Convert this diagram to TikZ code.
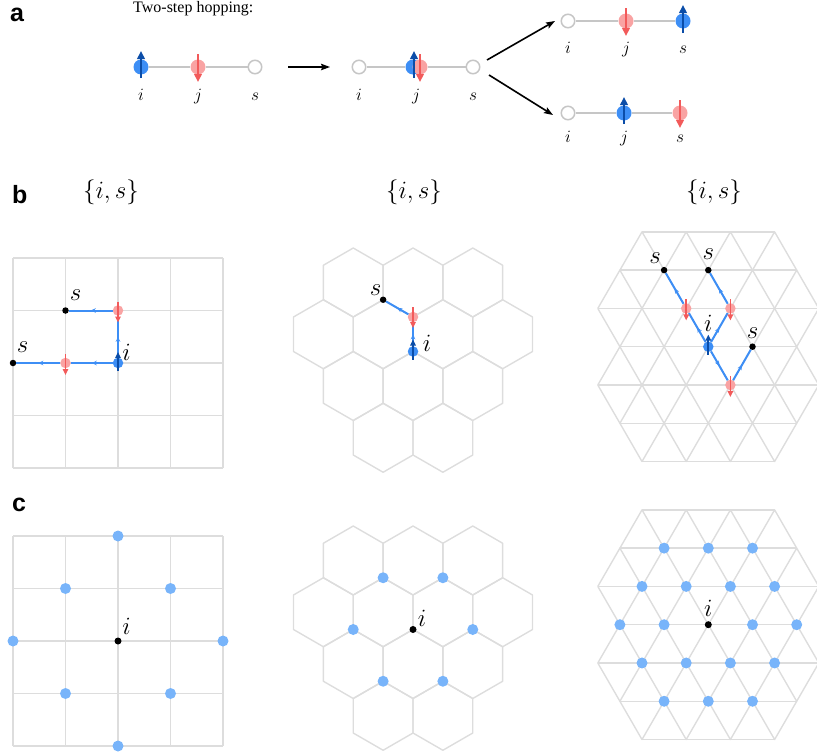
\documentclass[tikz,border=0pt]{standalone}
\usepackage{fontspec}
\setmainfont{Liberation Serif}
\newfontfamily\panelfont{Liberation Sans}
\usetikzlibrary{arrows.meta,calc,decorations.markings}
\definecolor{spinblue}{HTML}{3D8EF5}
\definecolor{darkblue}{HTML}{0B4DA8}
\definecolor{pinkfill}{HTML}{F9A3A3}
\definecolor{redarr}{HTML}{F25A5A}
\definecolor{gridgray}{HTML}{DDDDDD}
\definecolor{chaingray}{HTML}{C6C6C6}
\definecolor{pathblue}{HTML}{3D8EF5}
\definecolor{dotblue}{HTML}{78B4FA}
\newcommand{\mysqlat}{%
  \foreach \k in {-2,...,2} {\draw[latline] ({\k*52.5},-105) -- ({\k*52.5},105);
    \draw[latline] (-105,{\k*52.5}) -- (105,{\k*52.5});}}
\newcommand{\myhexlat}{%
  \foreach \cx/\cy in {-59.76/-69, 0/-69, 59.76/-69, -89.64/-17.25, -29.88/-17.25, 29.88/-17.25, 89.64/-17.25, -59.76/34.5, 0/34.5, 59.76/34.5, -29.88/86.25, 29.88/86.25}
  {\draw[latline] (\cx,\cy) +(30:34.5) -- +(90:34.5) -- +(150:34.5) -- +(210:34.5) -- +(270:34.5) -- +(330:34.5) -- cycle;}}
\newcommand{\mytrilat}{%
  \foreach \r/\w in {-3/1.5,-2/2,-1/2.5,0/2,1/2.5,2/2,3/1.5} {\draw[latline] (-\w,\r) -- (\w,\r);}
  \foreach \x in {-1.5,-0.5,0.5,1.5} {\draw[latline] ({\x-0.5},-2) -- (\x,-3) -- ({\x+0.5},-2);
    \draw[latline] ({\x-0.5},2) -- (\x,3) -- ({\x+0.5},2);}
  \foreach \x in {-2,...,2} {\draw[latline] ({\x-0.5},-1) -- (\x,-2) -- ({\x+0.5},-1);
    \draw[latline] ({\x-0.5},-1) -- (\x,0) -- ({\x+0.5},-1);
    \draw[latline] ({\x-0.5},1) -- (\x,0) -- ({\x+0.5},1);
    \draw[latline] ({\x-0.5},1) -- (\x,2) -- ({\x+0.5},1);}}
\begin{document}
\begin{tikzpicture}[x=1pt,y=-1pt,
  site/.style={circle,inner sep=0pt,minimum size=15pt},
  emptysite/.style={site,draw=chaingray,fill=white,line width=1.5pt,minimum size=13.5pt},
  bluesite/.style={site,fill=spinblue},
  pinksite/.style={site,fill=pinkfill},
  chainline/.style={chaingray,line width=2pt},
  upA/.style={darkblue,line width=2.5pt,-{Triangle[length=8pt,width=7.5pt]}},
  downA/.style={redarr,line width=2.5pt,-{Triangle[length=8pt,width=7.5pt]}},
  upS/.style={darkblue,line width=1.8pt,-{Triangle[length=6pt,width=5.5pt]}},
  downS/.style={redarr,line width=1.8pt,-{Triangle[length=6pt,width=5.5pt]}},
  bluesmall/.style={circle,inner sep=0pt,minimum size=10.5pt,fill=spinblue},
  pinksmall/.style={circle,inner sep=0pt,minimum size=10.5pt,fill=pinkfill},
  sdot/.style={circle,inner sep=0pt,minimum size=6.5pt,fill=black},
  cdot/.style={circle,inner sep=0pt,minimum size=11pt,fill=dotblue},
  latline/.style={gridgray,line width=1.4pt,line join=round},
  hop/.style={pathblue,line width=2pt,postaction={decorate},
    decoration={markings,mark=at position 0.5 with {\arrow{Stealth[length=5pt,width=4.5pt]}}}},
  bigarrow/.style={black,line width=1.6pt,-{Stealth[length=9pt,width=6.5pt,inset=1.5pt]}},
  panellab/.style={font=\panelfont\bfseries\fontsize{25}{30}\selectfont,inner sep=0pt,anchor=base west},
  alab/.style={font=\fontsize{16}{19}\selectfont,inner sep=0pt,anchor=base},
  lab/.style={font=\fontsize{24}{28}\selectfont,inner sep=0pt},
  ttl/.style={font=\fontsize{23.5}{28}\selectfont,inner sep=0pt}
]
\useasboundingbox (0,0) rectangle (817,755);

% ---------------- panel a ----------------
\node[panellab] (la) at (10,21) {a};
\node[inner sep=0pt,anchor=base west,font=\fontsize{16}{19}\selectfont] (ttlA) at (133,12.5) {Two-step hopping:};

% chain 1
\node[bluesite] (i1) at (141,67) {};
\node[pinksite] (j1) at (198,67) {};
\node[emptysite] (s1) at (255,67) {};
\draw[chainline] (i1) -- (j1);
\draw[chainline] (j1) -- (s1);
\draw[upA] ($(i1)+(0,11)$) -- ($(i1)+(0,-16)$);
\draw[downA] ($(j1)+(0,-13)$) -- ($(j1)+(0,15)$);
\node[alab] at (141,100) {$i$};
\node[alab] at (198,100) {$j$};
\node[alab] at (255,100) {$s$};

\coordinate (ar1s) at (288,67);
\coordinate (ar1e) at (330,67);
\draw[bigarrow] (ar1s) -- (ar1e);

% chain 2
\node[emptysite] (i2) at (359,67) {};
\node[bluesite] (j2b) at (413,67) {};
\node[pinksite] (j2p) at (420,67) {};
\node[emptysite] (s2) at (473,67) {};
\draw[chainline] (i2) -- (j2b);
\draw[chainline] (j2p) -- (s2);
\draw[upA] (414,78) -- (414,51);
\draw[downA] (420,54) -- (420,82);
\node[alab] at (359,100) {$i$};
\node[alab] at (416,100) {$j$};
\node[alab] at (473,100) {$s$};

\coordinate (ar2s) at (487,60);
\coordinate (ar2e) at (555,21);
\coordinate (ar3s) at (489,75);
\coordinate (ar3e) at (553,115);
\draw[bigarrow] (ar2s) -- (ar2e);
\draw[bigarrow] (ar3s) -- (ar3e);

% chain 3
\node[emptysite] (i3) at (568,21) {};
\node[pinksite] (j3) at (626,21) {};
\node[bluesite] (s3) at (683,21) {};
\draw[chainline] (i3) -- (j3);
\draw[chainline] (j3) -- (s3);
\draw[downA] ($(j3)+(0,-13)$) -- ($(j3)+(0,15)$);
\draw[upA] ($(s3)+(0,12)$) -- ($(s3)+(0,-16)$);
\node[alab] at (568,53) {$i$};
\node[alab] at (626,53) {$j$};
\node[alab] at (683,53) {$s$};

% chain 4
\node[emptysite] (i4) at (568,113) {};
\node[bluesite] (j4) at (624,113) {};
\node[pinksite] (s4) at (680,113) {};
\draw[chainline] (i4) -- (j4);
\draw[chainline] (j4) -- (s4);
\draw[upA] ($(j4)+(0,11)$) -- ($(j4)+(0,-16)$);
\draw[downA] ($(s4)+(0,-13)$) -- ($(s4)+(0,15)$);
\node[alab] at (568,142) {$i$};
\node[alab] at (624,142) {$j$};
\node[alab] at (680,142) {$s$};

% ---------------- panel b ----------------
\node[panellab] (lb) at (12,203) {b};
\node[ttl] (t1) at (111,192) {$\{i,s\}$};
\node[ttl] (t2) at (414,192) {$\{i,s\}$};
\node[ttl] (t3) at (714,192) {$\{i,s\}$};

% square
\begin{scope}[shift={(118,363)}]
  \mysqlat
  \node[bluesmall] (bsqI) at (0,0) {};
  \node[pinksmall] (bsqJa) at (0,-52.5) {};
  \node[pinksmall] (bsqJb) at (-52.5,0) {};
  \node[sdot] (bsqSa) at (-52.5,-52.5) {};
  \node[sdot] (bsqSb) at (-105,0) {};
\end{scope}
\draw[hop] (bsqI) -- (bsqJa);
\draw[hop] (bsqJa) -- (bsqSa);
\draw[hop] (bsqI) -- (bsqJb);
\draw[hop] (bsqJb) -- (bsqSb);
\draw[upS] ($(bsqI)+(0,8)$) -- ($(bsqI)+(0,-11)$);
\draw[downS] ($(bsqJa)+(0,-9)$) -- ($(bsqJa)+(0,12)$);
\draw[downS] ($(bsqJb)+(0,-9)$) -- ($(bsqJb)+(0,12)$);
\node[lab] at ($(bsqSa)+(10,-15)$) {$s$};
\node[lab] at ($(bsqSb)+(9.5,-16)$) {$s$};
\node[lab] at ($(bsqI)+(8.5,-11)$) {$i$};

% honeycomb
\begin{scope}[shift={(413,351.5)}]
  \myhexlat
  \node[bluesmall] (bhxI) at (0,0) {};
  \node[pinksmall] (bhxJ) at (0,-34.5) {};
  \node[sdot] (bhxS) at (-29.88,-51.75) {};
\end{scope}
\draw[hop] (bhxI) -- (bhxJ);
\draw[hop] (bhxJ) -- (bhxS);
\draw[upS] ($(bhxI)+(0,8)$) -- ($(bhxI)+(0,-12)$);
\draw[downS] ($(bhxJ)+(0,-10)$) -- ($(bhxJ)+(0,11)$);
\node[lab] at ($(bhxS)+(-7.5,-9.5)$) {$s$};
\node[lab] at ($(bhxI)+(14,-8)$) {$i$};

% triangular
\begin{scope}[shift={(708.3,346.7)},x=44.2pt,y=-38.28pt]
  \mytrilat
  \node[bluesmall] (btrI) at (0,0) {};
  \node[pinksmall] (btrJa) at (-0.5,-1) {};
  \node[pinksmall] (btrJb) at (0.5,-1) {};
  \node[pinksmall] (btrJc) at (0.5,1) {};
  \node[sdot] (btrSa) at (-1,-2) {};
  \node[sdot] (btrSb) at (0,-2) {};
  \node[sdot] (btrSc) at (1,0) {};
\end{scope}
\draw[hop] (btrI) -- (btrJa);
\draw[hop] (btrJa) -- (btrSa);
\draw[hop] (btrI) -- (btrJb);
\draw[hop] (btrJb) -- (btrSb);
\draw[hop] (btrI) -- (btrJc);
\draw[hop] (btrJc) -- (btrSc);
\draw[upS] ($(btrI)+(0,8)$) -- ($(btrI)+(0,-12)$);
\draw[downS] ($(btrJa)+(0,-9)$) -- ($(btrJa)+(0,12)$);
\draw[downS] ($(btrJb)+(0,-9)$) -- ($(btrJb)+(0,12)$);
\draw[downS] ($(btrJc)+(0,-9)$) -- ($(btrJc)+(0,12)$);
\node[lab] at ($(btrSa)+(-9,-12)$) {$s$};
\node[lab] at ($(btrSb)+(0,-16)$) {$s$};
\node[lab] at ($(btrSc)+(0,-14)$) {$s$};
\node[lab] at ($(btrI)+(0,-23)$) {$i$};

% ---------------- panel c ----------------
\node[panellab] (lc) at (12,511) {c};

\begin{scope}[shift={(118,641)}]
  \mysqlat
  \foreach \dx/\dy [count=\k] in {0/-2,-1/-1,1/-1,-2/0,2/0,-1/1,1/1,0/2}
    {\node[cdot] (csq\k) at ({\dx*52.5},{\dy*52.5}) {};}
  \node[sdot,minimum size=7pt] (csqI) at (0,0) {};
\end{scope}
\node[lab] at ($(csqI)+(8.5,-15)$) {$i$};

\begin{scope}[shift={(413,629.5)}]
  \myhexlat
  \foreach \dx/\dy [count=\k] in {-29.88/-51.75,29.88/-51.75,-59.76/0,59.76/0,-29.88/51.75,29.88/51.75}
    {\node[cdot] (chx\k) at (\dx,\dy) {};}
  \node[sdot,minimum size=7pt] (chxI) at (0,0) {};
\end{scope}
\node[lab] at ($(chxI)+(9,-11)$) {$i$};

\begin{scope}[shift={(708.3,624.7)},x=44.2pt,y=-38.28pt]
  \mytrilat
  \foreach \dx/\dy [count=\k] in {-1/-2,0/-2,1/-2,-1.5/-1,-0.5/-1,0.5/-1,1.5/-1,-2/0,-1/0,1/0,2/0,-1.5/1,-0.5/1,0.5/1,1.5/1,-1/2,0/2,1/2}
    {\node[cdot] (ctr\k) at (\dx,\dy) {};}
  \node[sdot,minimum size=7pt] (ctrI) at (0,0) {};
\end{scope}
\node[lab] at ($(ctrI)+(0,-16)$) {$i$};
\end{tikzpicture}
\end{document}
